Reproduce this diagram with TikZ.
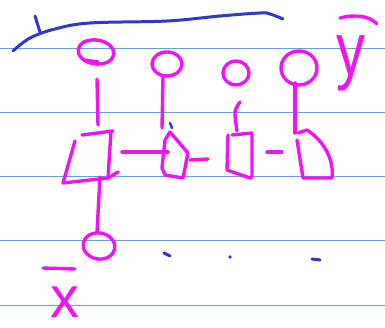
\documentclass[tikz,border=0pt]{standalone}
\usepackage{fontspec}
\setmainfont{Liberation Sans}
\definecolor{paperline}{RGB}{100,160,225}
\definecolor{ink}{RGB}{240,20,240}
\definecolor{blueink}{RGB}{50,55,200}
\tikzset{
  rule/.style={paperline, line width=1pt},
  pen/.style={ink, line width=3.4pt, line cap=round, line join=round},
  bluepen/.style={blueink, line width=3pt, line cap=round, line join=round},
  letter/.style={ink, font=\fontsize{58}{58}\selectfont, inner sep=0pt, anchor=base}
}
\begin{document}
\begin{tikzpicture}[x=1pt,y=-1pt]
\useasboundingbox (0,0) rectangle (385,328);
\fill[white] (0,0) rectangle (385,328);
% ruled paper lines
\foreach \yy in {49,113,177,241,305} \draw[rule] (0,\yy) -- (385,\yy);
% blue bracket
\draw[bluepen] plot[smooth, tension=0.6] coordinates {(13,51) (30,38) (55,29) (90,23) (167,21) (220,16) (260,13) (270,14) (283,19)};
\draw[bluepen] (35,16) -- (40,32);
% top circles
\draw[pen, rotate around={-8:(96,52)}] (96,52) ellipse [x radius=18, y radius=12];
\draw[pen] (84,60) -- (98,62);
\draw[pen] (167,64) ellipse [x radius=15, y radius=12];
\draw[pen] (236,73) ellipse [x radius=13, y radius=12];
\draw[pen] (299,68) ellipse [x radius=18, y radius=17];
% stems
\draw[pen] (97,79) -- (98,125);
\draw[pen] (163,77) -- (162,128);
\draw[pen] plot[smooth] coordinates {(240,102) (235,112) (237,131)};
\draw[pen] (295,83) -- (295,133);
\draw[bluepen, line width=2.5pt] (170,123) -- (172,128);
% box 1
\draw[pen] (82,135) -- (113,131);
\draw[pen] (111,131) -- (108,178);
\draw[pen] (75,141) -- (63,183) -- (108,178) -- (118,172);
% box 1 to bottom circle
\draw[pen] (100,177) -- (97,232);
\draw[pen, rotate around={-10:(99,246)}] (99,246) ellipse [x radius=16, y radius=13];
% connectors
\draw[pen] (122,152) -- (168,152);
\draw[pen] (190,160) -- (208,159);
\draw[pen] (267,152) -- (282,152);
% shape 2
\draw[pen] (170,132) -- (188,153) -- (183,178) -- (165,175) -- (162,168) -- (165,140) -- (170,132);
% box 3
\draw[pen] (228,135) -- (227,170) -- (250,178) -- (252,177) -- (252,133) -- (232,135);
% shape 4
\draw[pen] (297,140) -- (303,178) -- (332,178) .. controls (334,160) and (325,142) .. (307,130) -- (298,133);
% blue dots
\draw[bluepen] (164,253) -- (170,256);
\fill[blueink] (230,257) circle (1.8);
\draw[bluepen] (312,259) -- (320,260);
% labels
\node[letter, yscale=1.3] (ylab) at (351,76) {y};
\draw[pen] (340,18) .. controls (355,14) and (370,16) .. (377,24);
\draw[pen] (43,268) -- (75,269);
\node[letter] (xlab) at (65,317) {x};
\end{tikzpicture}
\end{document}
